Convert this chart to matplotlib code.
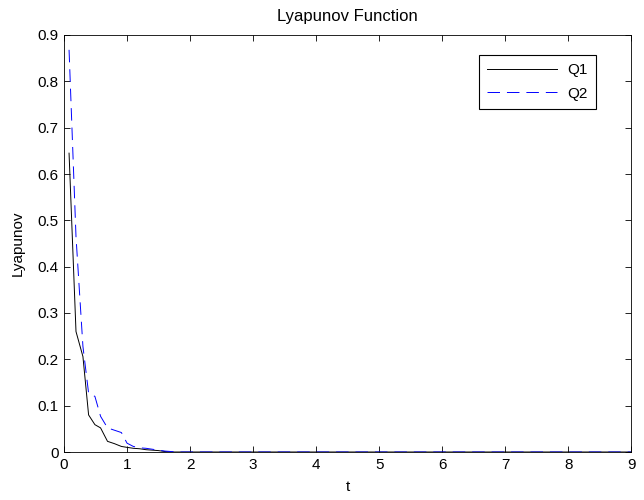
import matplotlib
matplotlib.use('Agg')
import matplotlib.pyplot as plt

# sample times and Lyapunov values
t = [0.08, 0.19, 0.30, 0.39, 0.49, 0.58, 0.69, 0.80, 0.91, 1.00,
     1.10, 1.20, 1.30, 1.40, 1.50, 1.60, 1.70, 1.80, 9.00]
q1 = [0.645, 0.260, 0.206, 0.080, 0.059, 0.052, 0.023, 0.018, 0.012, 0.010,
      0.008, 0.007, 0.005, 0.004, 0.003, 0.001, 0.000, 0.000, 0.000]
q2 = [0.868, 0.465, 0.228, 0.127, 0.120, 0.077, 0.052, 0.047, 0.042, 0.019,
      0.012, 0.009, 0.008, 0.006, 0.004, 0.002, 0.001, 0.000, 0.000]

plt.rcParams['font.family'] = ['Liberation Sans', 'DejaVu Sans']
plt.rcParams['font.size'] = 11
plt.rcParams['lines.scale_dashes'] = False

fig = plt.figure(figsize=(6.44, 5.00), dpi=100)
ax = fig.add_axes([0.0994, 0.096, 0.881, 0.834])

ax.plot(t, q1, color='black', lw=0.7, label='Q1')
ax.plot(t, q2, color='blue', lw=0.7, dashes=(9, 5), label='Q2')

ax.set_xlim(0, 9)
ax.set_ylim(0, 0.9)
ax.set_xticks(range(0, 10))
ax.set_yticks([i / 10 for i in range(10)])
ax.set_yticklabels(['0'] + [f'{i / 10:.1f}' for i in range(1, 10)])
ax.tick_params(direction='in', top=True, right=True, length=4, width=0.6,
               labelsize=11, pad=4)
for s in ax.spines.values():
    s.set_linewidth(0.6)

ax.set_title('Lyapunov Function', fontsize=12, pad=10)
ax.set_xlabel('t', fontsize=11, labelpad=6)
ax.set_ylabel('Lyapunov', fontsize=11, labelpad=9)

leg = ax.legend(loc='upper right', bbox_to_anchor=(0.938, 0.952), fontsize=11,
                handlelength=4.6, handletextpad=0.65, fancybox=False,
                framealpha=1, borderaxespad=0, borderpad=0.55,
                labelspacing=0.6)
leg.get_frame().set_edgecolor('black')
leg.get_frame().set_linewidth(0.8)

fig.savefig('out.png', dpi=100)
